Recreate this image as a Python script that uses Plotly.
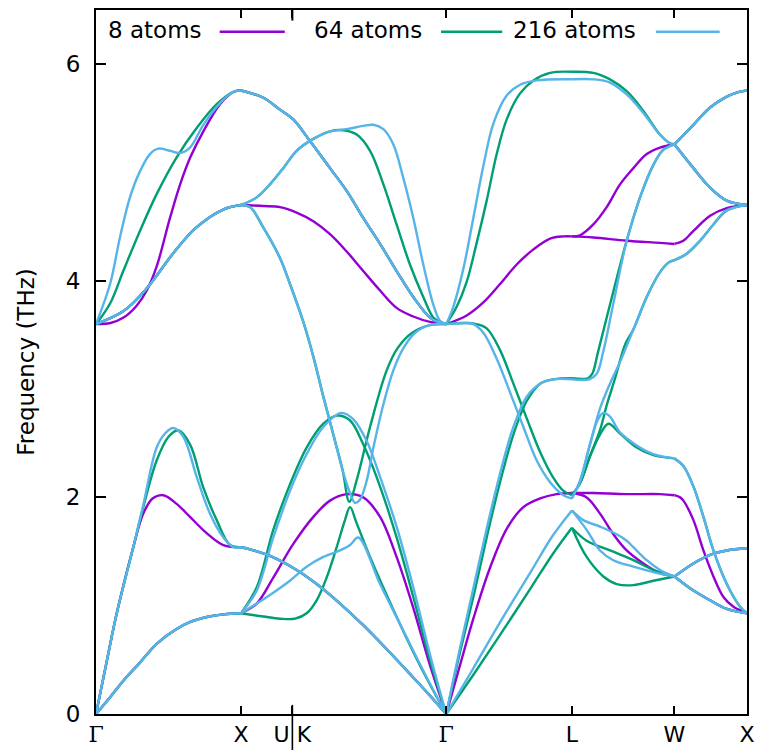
import plotly.graph_objects as go

# High-symmetry points along the fcc path Γ-X-U|K-Γ-L-W-X (units of 2π/a)
KPOINTS = [0.0, 1.0, 1.3536, 2.4142, 3.2802, 3.9873, 4.4873]
GAMMA = '<span style="font-family:DejaVu Serif">Γ</span>'
KLABELS = [GAMMA, "X", "U K", GAMMA, "L", "W", "X"]
FREQ_TICKS = [0, 2, 4, 6]

# ---- branches common to all three supercells: (q, frequency / THz) ----
GX_TO = [(0, 3.60), (0.19, 3.72), (0.35, 3.93), (0.53, 4.25), (0.69, 4.49), (0.88, 4.66), (1.0, 4.70)]
GX_TA = [(0, 0), (0.1, 0.16), (0.19, 0.31), (0.3, 0.47), (0.42, 0.65), (0.55, 0.78), (0.65, 0.85),
         (0.78, 0.90), (0.88, 0.92), (1.0, 0.93)]
XK_TOP = [(1.0, 5.757), (1.154, 5.69), (1.268, 5.58), (1.36, 5.49), (1.475, 5.29), (1.613, 5.04),
          (1.728, 4.83), (1.842, 4.58), (1.958, 4.34), (2.072, 4.09), (2.187, 3.85), (2.302, 3.66),
          (2.36, 3.62), (2.4142, 3.60)]
XK_LOW = [(1.0, 1.54), (1.062, 1.52), (1.199, 1.46), (1.383, 1.33), (1.521, 1.20), (1.682, 1.02),
          (1.842, 0.82), (2.003, 0.60), (2.164, 0.37), (2.302, 0.17), (2.4142, 0)]
WX_TOP_UP = [(3.9873, 5.26), (4.118, 5.44), (4.233, 5.60), (4.348, 5.70), (4.42, 5.74), (4.4873, 5.757)]
WX_TOP_DN = [(3.9873, 5.26), (4.118, 5.04), (4.233, 4.86), (4.348, 4.74), (4.4873, 4.70)]
WX_LOW_UP = [(3.9873, 1.27), (4.118, 1.39), (4.233, 1.47), (4.348, 1.51), (4.4873, 1.53)]
WX_LOW_DN = [(3.9873, 1.27), (4.118, 1.14), (4.233, 1.05), (4.348, 0.97), (4.4873, 0.93)]

# ---- 8 atoms ----
GX_8 = [
    GX_TO,
    [(0, 3.60), (0.10, 3.61), (0.19, 3.66), (0.28, 3.77), (0.35, 3.91), (0.42, 4.14), (0.51, 4.58),
     (0.58, 4.89), (0.65, 5.14), (0.74, 5.38), (0.855, 5.63), (0.95, 5.745), (1.0, 5.757)],
    [(0, 0), (0.07, 0.46), (0.143, 0.93), (0.257, 1.54), (0.326, 1.85), (0.39, 1.99), (0.464, 2.02),
     (0.556, 1.94), (0.648, 1.82), (0.763, 1.67), (0.878, 1.56), (1.0, 1.54)],
    GX_TA,
]
XK_8 = [
    XK_TOP,
    [(1.0, 4.70), (1.154, 4.69), (1.268, 4.68), (1.383, 4.63), (1.498, 4.55), (1.613, 4.43),
     (1.728, 4.27), (1.842, 4.09), (1.958, 3.91), (2.072, 3.75), (2.187, 3.67), (2.302, 3.62), (2.4142, 3.60)],
    [(1.0, 0.93), (1.108, 1.02), (1.222, 1.26), (1.36, 1.57), (1.498, 1.82), (1.613, 1.97), (1.728, 2.03),
     (1.842, 2.0), (1.958, 1.82), (2.072, 1.45), (2.187, 0.98), (2.302, 0.45), (2.4142, 0)],
    XK_LOW,
]
GL_8 = [
    [(2.4142, 3.60), (2.555, 3.68), (2.67, 3.80), (2.785, 3.97), (2.90, 4.15), (3.015, 4.29),
     (3.13, 4.39), (3.222, 4.41), (3.2802, 4.41)],
    [(2.4142, 0), (2.509, 0.45), (2.601, 0.88), (2.716, 1.35), (2.831, 1.71), (2.946, 1.91),
     (3.061, 1.99), (3.175, 2.03), (3.2802, 2.04)],
]
LW_8 = [
    [(3.2802, 4.41), (3.336, 4.42), (3.428, 4.52), (3.52, 4.68), (3.612, 4.89), (3.704, 5.04),
     (3.796, 5.17), (3.888, 5.23), (3.9873, 5.26)],
    [(3.2802, 4.41), (3.428, 4.40), (3.658, 4.37), (3.888, 4.35), (3.9873, 4.34)],
    [(3.2802, 2.04), (3.428, 2.04), (3.658, 2.03), (3.888, 2.03), (3.9873, 2.02)],
    [(3.2802, 2.04), (3.382, 2.00), (3.474, 1.85), (3.566, 1.66), (3.658, 1.51), (3.773, 1.39),
     (3.888, 1.30), (3.9873, 1.27)],
]
WX_8 = [
    WX_TOP_UP, WX_TOP_DN,
    [(3.9873, 4.34), (4.049, 4.37), (4.118, 4.46), (4.233, 4.60), (4.348, 4.67), (4.4873, 4.70)],
    [(3.9873, 2.02), (4.026, 2.0), (4.049, 1.97), (4.118, 1.79), (4.187, 1.51), (4.256, 1.27),
     (4.325, 1.08), (4.394, 0.99), (4.4873, 0.93)],
    WX_LOW_UP, WX_LOW_DN,
]

# ---- 64 atoms ----
GX_64 = [
    GX_TO,
    [(0, 3.60), (0.097, 3.79), (0.188, 4.09), (0.303, 4.46), (0.418, 4.80), (0.556, 5.14), (0.694, 5.41),
     (0.832, 5.63), (0.947, 5.745), (1.0, 5.757)],
    [(0, 0), (0.07, 0.46), (0.143, 0.93), (0.257, 1.54), (0.326, 1.91), (0.418, 2.34), (0.50, 2.56),
     (0.567, 2.62), (0.648, 2.49), (0.74, 2.09), (0.832, 1.79), (0.924, 1.56), (1.0, 1.54)],
    GX_TA,
]
XK_64 = [
    XK_TOP,
    [(1.0, 4.70), (1.108, 4.77), (1.199, 4.89), (1.291, 5.04), (1.383, 5.20), (1.498, 5.31), (1.613, 5.38),
     (1.705, 5.39), (1.797, 5.35), (1.889, 5.20), (1.981, 4.89), (2.072, 4.52), (2.164, 4.15),
     (2.256, 3.85), (2.325, 3.66), (2.371, 3.62), (2.4142, 3.60)],
    [(1.0, 4.70), (1.062, 4.68), (1.154, 4.49), (1.268, 4.21), (1.337, 3.97), (1.429, 3.62), (1.498, 3.30),
     (1.567, 2.93), (1.636, 2.58), (1.70, 2.25), (1.746, 1.96), (1.797, 2.16), (1.889, 2.65),
     (2.003, 3.17), (2.08, 3.38), (2.18, 3.52), (2.30, 3.59), (2.4142, 3.60)],
    [(1.0, 0.93), (1.154, 0.90), (1.268, 0.88), (1.372, 0.88), (1.452, 0.93), (1.521, 1.05), (1.59, 1.26),
     (1.659, 1.54), (1.716, 1.79), (1.751, 1.91), (1.797, 1.76), (1.889, 1.45), (2.003, 1.10),
     (2.141, 0.70), (2.279, 0.33), (2.4142, 0)],
    [(1.0, 0.93), (1.108, 1.17), (1.222, 1.70), (1.337, 2.12), (1.452, 2.46), (1.567, 2.68), (1.659, 2.755),
     (1.751, 2.71), (1.842, 2.49), (1.958, 2.10), (2.072, 1.63), (2.187, 1.08), (2.302, 0.50), (2.4142, 0)],
    XK_LOW,
]
GL_64 = [
    [(2.4142, 3.60), (2.486, 3.76), (2.555, 3.99), (2.624, 4.35), (2.693, 4.74), (2.762, 5.17),
     (2.831, 5.49), (2.923, 5.73), (3.015, 5.85), (3.13, 5.92), (3.2802, 5.93)],
    [(2.4142, 3.60), (2.55, 3.61), (2.62, 3.60), (2.693, 3.56), (2.785, 3.36), (2.877, 3.05), (2.969, 2.73),
     (3.061, 2.42), (3.153, 2.18), (3.222, 2.06), (3.2802, 2.02)],
    [(2.4142, 0), (2.509, 0.57), (2.601, 1.08), (2.693, 1.63), (2.785, 2.14), (2.877, 2.58), (2.969, 2.89),
     (3.061, 3.05), (3.153, 3.09), (3.2802, 3.10)],
    [(2.4142, 0), (2.6, 0.36), (2.8, 0.76), (3.0, 1.17), (3.15, 1.48), (3.2802, 1.72)],
]
LW_64 = [
    [(3.2802, 5.93), (3.428, 5.92), (3.543, 5.86), (3.658, 5.75), (3.772, 5.57), (3.887, 5.35),
     (3.956, 5.27), (3.9873, 5.26)],
    [(3.2802, 3.10), (3.39, 3.10), (3.42, 3.14), (3.462, 3.35), (3.545, 3.79), (3.658, 4.37), (3.75, 4.77),
     (3.842, 5.07), (3.911, 5.21), (3.9873, 5.26)],
    [(3.2802, 2.02), (3.336, 2.13), (3.405, 2.38), (3.474, 2.62), (3.52, 2.85), (3.578, 3.10), (3.65, 3.42),
     (3.704, 3.55), (3.796, 3.85), (3.888, 4.08), (3.95, 4.17), (3.9873, 4.19)],
    [(3.2802, 2.02), (3.336, 2.13), (3.405, 2.38), (3.474, 2.58), (3.532, 2.68), (3.612, 2.59),
     (3.727, 2.46), (3.842, 2.39), (3.9873, 2.36)],
    [(3.2802, 1.72), (3.382, 1.60), (3.543, 1.51), (3.704, 1.42), (3.842, 1.33), (3.9873, 1.27)],
    [(3.2802, 1.72), (3.382, 1.45), (3.497, 1.27), (3.589, 1.20), (3.704, 1.19), (3.842, 1.23), (3.9873, 1.27)],
]
WX_64 = [
    WX_TOP_UP, WX_TOP_DN,
    [(3.9873, 4.19), (4.072, 4.25), (4.164, 4.37), (4.256, 4.52), (4.348, 4.65), (4.4873, 4.70)],
    [(3.9873, 2.36), (4.049, 2.29), (4.118, 2.10), (4.187, 1.82), (4.256, 1.51), (4.348, 1.20),
     (4.44, 0.99), (4.4873, 0.93)],
    WX_LOW_UP, WX_LOW_DN,
]

# ---- 216 atoms ----
GX_216 = [
    GX_TO,
    [(0, 3.60), (0.097, 3.97), (0.165, 4.40), (0.234, 4.77), (0.303, 5.01), (0.372, 5.17), (0.43, 5.22),
     (0.51, 5.20), (0.579, 5.18), (0.648, 5.23), (0.74, 5.44), (0.855, 5.64), (0.947, 5.745), (1.0, 5.757)],
    [(0, 0), (0.07, 0.46), (0.143, 0.93), (0.257, 1.54), (0.326, 1.93), (0.418, 2.46), (0.476, 2.59),
     (0.533, 2.64), (0.602, 2.56), (0.694, 2.19), (0.786, 1.85), (0.878, 1.63), (0.947, 1.54), (1.0, 1.54)],
    GX_TA,
]
XK_216 = [
    XK_TOP,
    [(1.0, 4.70), (1.108, 4.77), (1.199, 4.89), (1.291, 5.04), (1.383, 5.20), (1.498, 5.31), (1.613, 5.38),
     (1.728, 5.40), (1.842, 5.43), (1.912, 5.44), (1.981, 5.40), (2.049, 5.26), (2.118, 4.95),
     (2.187, 4.58), (2.256, 4.15), (2.325, 3.78), (2.371, 3.63), (2.4142, 3.60)],
    [(1.0, 4.70), (1.062, 4.68), (1.154, 4.49), (1.268, 4.21), (1.337, 3.97), (1.429, 3.62), (1.498, 3.30),
     (1.567, 2.93), (1.636, 2.58), (1.70, 2.25), (1.751, 2.04), (1.785, 1.95), (1.82, 1.98),
     (1.866, 2.155), (1.912, 2.46), (1.981, 2.86), (2.049, 3.17), (2.12, 3.38), (2.2, 3.52),
     (2.3, 3.59), (2.4142, 3.60)],
    [(1.0, 0.93), (1.108, 1.02), (1.222, 1.12), (1.337, 1.23), (1.452, 1.36), (1.567, 1.45), (1.682, 1.51),
     (1.751, 1.56), (1.808, 1.63), (1.958, 1.20), (2.118, 0.77), (2.279, 0.34), (2.4142, 0)],
    [(1.0, 0.93), (1.108, 1.14), (1.222, 1.63), (1.337, 2.06), (1.452, 2.40), (1.567, 2.65), (1.693, 2.78),
     (1.774, 2.72), (1.866, 2.52), (1.958, 2.19), (2.072, 1.73), (2.187, 1.17), (2.302, 0.55), (2.4142, 0)],
    XK_LOW,
]
GL_216 = [
    [(2.4142, 3.60), (2.463, 3.76), (2.532, 4.11), (2.601, 4.58), (2.67, 5.06), (2.739, 5.45),
     (2.831, 5.71), (2.923, 5.81), (3.038, 5.85), (3.2802, 5.86)],
    [(2.4142, 3.60), (2.55, 3.61), (2.601, 3.60), (2.67, 3.52), (2.762, 3.28), (2.854, 2.97), (2.946, 2.65),
     (3.038, 2.34), (3.13, 2.14), (3.222, 2.02), (3.2802, 1.99)],
    [(2.4142, 0), (2.509, 0.61), (2.601, 1.16), (2.693, 1.71), (2.785, 2.22), (2.877, 2.65), (2.969, 2.93),
     (3.061, 3.05), (3.153, 3.09), (3.2802, 3.09)],
    [(2.4142, 0), (2.6, 0.42), (2.8, 0.88), (3.0, 1.32), (3.15, 1.65), (3.2802, 1.88)],
]
LW_216 = [
    [(3.2802, 5.86), (3.428, 5.86), (3.543, 5.83), (3.658, 5.72), (3.772, 5.55), (3.887, 5.35),
     (3.956, 5.27), (3.9873, 5.26)],
    [(3.2802, 3.09), (3.40, 3.09), (3.451, 3.14), (3.497, 3.35), (3.566, 3.79), (3.658, 4.37), (3.75, 4.77),
     (3.842, 5.07), (3.911, 5.21), (3.9873, 5.26)],
    [(3.2802, 1.99), (3.336, 2.15), (3.405, 2.49), (3.474, 2.82), (3.543, 3.05), (3.612, 3.25),
     (3.704, 3.55), (3.796, 3.85), (3.888, 4.08), (3.95, 4.17), (3.9873, 4.19)],
    [(3.2802, 1.99), (3.336, 2.15), (3.405, 2.49), (3.46, 2.72), (3.497, 2.78), (3.54, 2.75), (3.612, 2.60),
     (3.727, 2.48), (3.842, 2.40), (3.9873, 2.36)],
    [(3.2802, 1.88), (3.359, 1.79), (3.474, 1.73), (3.589, 1.66), (3.658, 1.60), (3.704, 1.54),
     (3.796, 1.42), (3.888, 1.33), (3.9873, 1.27)],
    [(3.2802, 1.88), (3.382, 1.70), (3.474, 1.51), (3.566, 1.42), (3.704, 1.36), (3.842, 1.31), (3.9873, 1.27)],
]
WX_216 = WX_64

SERIES = [
    ("8 atoms", "#9400D3", [GX_8, XK_8, GL_8, LW_8, WX_8]),
    ("64 atoms", "#009E73", [GX_64, XK_64, GL_64, LW_64, WX_64]),
    ("216 atoms", "#56B4E9", [GX_216, XK_216, GL_216, LW_216, WX_216]),
]

FONT = "DejaVu Sans"


def flatten(segments):
    xs, ys = [], []
    for seg in segments:
        for branch in seg:
            for q, f in branch:
                xs.append(q)
                ys.append(f)
            xs.append(None)
            ys.append(None)
    return xs, ys


fig = go.Figure()
for name, color, segs in SERIES:
    xs, ys = flatten(segs)
    fig.add_trace(go.Scatter(
        x=xs, y=ys, mode="lines", name=name, showlegend=False,
        connectgaps=False,
        line=dict(color=color, width=2.4, shape="spline", smoothing=1.0),
    ))

# key in the top strip: label followed by a line sample
key_text_right = [0.166, 0.504, 0.833]
key_line_span = [(0.190, 0.290), (0.530, 0.624), (0.860, 0.958)]
key_y = 0.969
annotations = []
shapes = []
for (name, color, _), xr, (x0, x1) in zip(SERIES, key_text_right, key_line_span):
    annotations.append(dict(x=xr, y=key_y + 0.002, xref="paper", yref="paper", text=name,
                            showarrow=False, xanchor="right", yanchor="middle",
                            font=dict(family=FONT, size=23, color="black")))
    shapes.append(dict(type="line", xref="paper", yref="paper", x0=x0, x1=x1, y0=key_y, y1=key_y,
                       line=dict(color=color, width=2.4)))

# separator between U and K, through the bottom axis and as a longer tick on the top axis
shapes.append(dict(type="line", xref="x", yref="paper", x0=KPOINTS[2], x1=KPOINTS[2],
                   y0=-0.06, y1=0.013, line=dict(color="black", width=1.6)))
shapes.append(dict(type="line", xref="x", yref="paper", x0=KPOINTS[2], x1=KPOINTS[2],
                   y0=0.985, y1=1.0, line=dict(color="black", width=2)))

fig.update_layout(
    width=757, height=750,
    margin=dict(l=96, r=10, t=10, b=36, autoexpand=False),
    paper_bgcolor="white", plot_bgcolor="white",
    font=dict(family=FONT, size=23, color="black"),
    annotations=annotations, shapes=shapes,
    xaxis=dict(range=[KPOINTS[0], KPOINTS[-1]], tickvals=KPOINTS, ticktext=KLABELS,
               ticks="inside", ticklen=8, tickwidth=2, tickcolor="black",
               showline=True, linewidth=2, linecolor="black", mirror="ticks",
               showgrid=False, zeroline=False, ticklabelstandoff=0, automargin=False,
               tickfont=dict(family=FONT, size=22)),
    yaxis=dict(range=[0, 6.5], tickvals=FREQ_TICKS, ticks="inside", ticklen=10, tickwidth=2,
               tickcolor="black", showline=True, linewidth=2, linecolor="black", mirror="ticks",
               showgrid=False, zeroline=False, ticklabelstandoff=9, automargin=False,
               tickfont=dict(family=FONT, size=23),
               title=dict(text="Frequency (THz)", standoff=25, font=dict(family=FONT, size=23))),
)

fig.write_html("out.html")
